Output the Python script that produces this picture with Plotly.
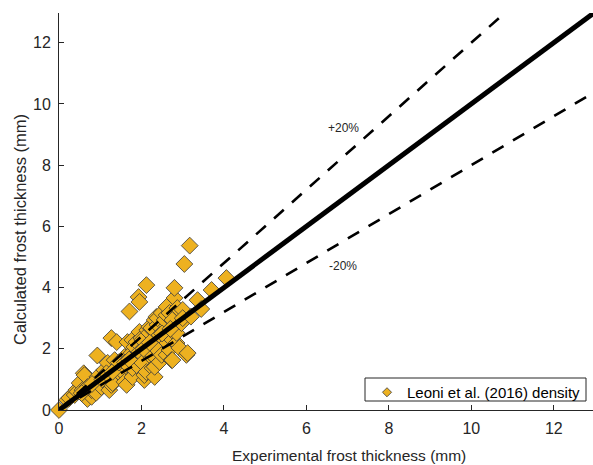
import plotly.graph_objects as go

exp_x = [0.00, 0.20, 0.25, 0.38, 0.42, 0.45, 0.50, 0.57, 0.60, 0.62, 0.69, 0.69, 0.79, 0.79,
         0.86, 0.90, 0.93, 0.93, 1.03, 1.10, 1.18, 1.22, 1.27, 1.27, 1.30, 1.35, 1.40, 1.42,
         1.52, 1.50, 1.59, 1.59, 1.64, 1.66, 1.71, 1.76, 1.78, 1.78, 1.78, 1.83, 1.83, 1.88,
         1.88, 1.93, 1.95, 1.95, 1.95, 2.00, 2.02, 2.02, 2.07, 2.07, 2.12, 2.12, 2.14, 2.19,
         2.19, 2.24, 2.24, 2.27, 2.27, 2.32, 2.32, 2.32, 2.32, 2.36, 2.39, 2.39, 2.39, 2.44,
         2.44, 2.49, 2.49, 2.56, 2.61, 2.61, 2.61, 2.63, 2.63, 2.68, 2.68, 2.73, 2.75, 2.75,
         2.75, 2.80, 2.80, 2.80, 2.85, 2.85, 2.87, 2.92, 2.97, 3.00, 3.04, 3.09, 3.12, 3.17,
         3.36, 3.70, 4.06,
         0.55, 0.80, 1.05, 1.15, 1.30, 1.45, 1.60, 1.70, 2.05, 2.20, 2.50, 2.70, 3.00, 3.20, 3.45]
calc_y = [0.00, 0.33, 0.39, 0.49, 0.65, 0.60, 0.88, 0.65, 1.20, 1.14, 0.36, 0.75, 0.43, 0.65,
          0.92, 0.56, 1.08, 1.78, 0.75, 1.31, 1.54, 0.65, 0.82, 2.35, 0.88, 1.63, 2.22, 1.41,
          1.14, 1.30, 0.92, 1.73, 0.82, 2.22, 3.22, 1.86, 1.08, 1.37, 2.29, 1.73, 2.06, 1.47,
          2.22, 3.69, 1.90, 2.55, 3.53, 2.35, 1.54, 2.29, 0.98, 1.14, 1.24, 4.08, 2.61, 2.52,
          2.71, 1.73, 2.68, 1.37, 1.80, 1.08, 1.41, 2.06, 2.94, 3.04, 1.96, 2.78, 3.00, 1.57,
          2.45, 1.80, 3.17, 2.94, 1.80, 3.10, 3.37, 2.19, 2.55, 1.96, 3.17, 1.63, 1.63, 2.29,
          2.94, 2.52, 3.66, 3.99, 2.19, 2.52, 3.33, 2.03, 2.84, 3.27, 4.77, 1.80, 1.86, 5.37,
          3.59, 3.92, 4.31,
          0.55, 0.85, 1.00, 1.20, 1.25, 1.55, 1.55, 1.65, 2.00, 2.20, 2.50, 2.65, 3.00, 3.05, 3.30]

line_x = [0, 13]
ideal_y = [0, 13]
plus20_y = [0, 13 * 1.2]
minus20_y = [0, 13 * 0.8]

series_name = "Leoni et al. (2016) density"
x_title = "Experimental frost thickness (mm)"
y_title = "Calculated frost thickness (mm)"
tick_vals = [0, 2, 4, 6, 8, 10, 12]

FONT = "Liberation Sans, Arial, sans-serif"
AX = "#262626"
FILL = "#EDB120"
EDGE = "#3a3a3a"

fig = go.Figure()
fig.add_trace(go.Scatter(
    x=exp_x, y=calc_y, mode="markers", name=series_name, showlegend=False,
    marker=dict(symbol="diamond", size=13, color=FILL, line=dict(color=EDGE, width=0.8)),
    cliponaxis=False,
))
# legend entry with the small legend glyph
fig.add_trace(go.Scatter(
    x=[None], y=[None], mode="markers", name=series_name, showlegend=True,
    marker=dict(symbol="diamond", size=7, color=FILL, line=dict(color=EDGE, width=0.8)),
))
fig.add_trace(go.Scatter(x=line_x, y=ideal_y, mode="lines", showlegend=False,
                         line=dict(color="black", width=5)))
fig.add_trace(go.Scatter(x=line_x, y=plus20_y, mode="lines", showlegend=False,
                         line=dict(color="black", width=2.6, dash="13px,11px")))
fig.add_trace(go.Scatter(x=line_x, y=minus20_y, mode="lines", showlegend=False,
                         line=dict(color="black", width=2.6, dash="13px,11px")))

axis_common = dict(
    showgrid=False, zeroline=False, showline=True, linecolor=AX, linewidth=1,
    ticks="inside", ticklen=5, tickcolor=AX, tickwidth=1, ticklabelstandoff=4,
    tickvals=tick_vals, tickfont=dict(family=FONT, size=16, color=AX),
)
pw, ph = 593 - 59, 465 - 13 - 55
fig.update_layout(
    width=593, height=465,
    margin=dict(l=59, r=0, t=13, b=55),
    plot_bgcolor="white", paper_bgcolor="white",
    xaxis=dict(range=[0, 12.95], **axis_common),
    yaxis=dict(range=[0, 12.97], **axis_common),
    showlegend=True,
    legend=dict(x=(586 - 59) / pw, y=(410 - 409) / ph, xanchor="right", yanchor="bottom",
                borderwidth=0, bgcolor="rgba(0,0,0,0)",
                font=dict(family=FONT, size=15, color="black"),
                itemwidth=30, tracegroupgap=0),
    shapes=[
        dict(type="rect", xref="paper", yref="paper",
             x0=(365 - 59) / pw, x1=(586 - 59) / pw,
             y0=(410 - 401) / ph, y1=(410 - 378) / ph,
             line=dict(color=AX, width=1), fillcolor="white", layer="above"),
    ],
    annotations=[
        dict(x=6.89, y=9.22, xref="x", yref="y", text="+20%", showarrow=False,
             font=dict(family=FONT, size=12, color=AX)),
        dict(x=6.89, y=4.71, xref="x", yref="y", text="-20%", showarrow=False,
             font=dict(family=FONT, size=12, color=AX)),
        dict(x=(349 - 59) / pw, y=(410 - 455) / ph, xref="paper", yref="paper",
             text=x_title, showarrow=False, xanchor="center", yanchor="middle",
             font=dict(family=FONT, size=15.5, color=AX)),
        dict(x=(20 - 59) / pw, y=(410 - 230) / ph, xref="paper", yref="paper",
             text=y_title, showarrow=False, textangle=-90,
             xanchor="center", yanchor="middle",
             font=dict(family=FONT, size=16.5, color=AX)),
    ],
)

fig.write_html("out.html")
